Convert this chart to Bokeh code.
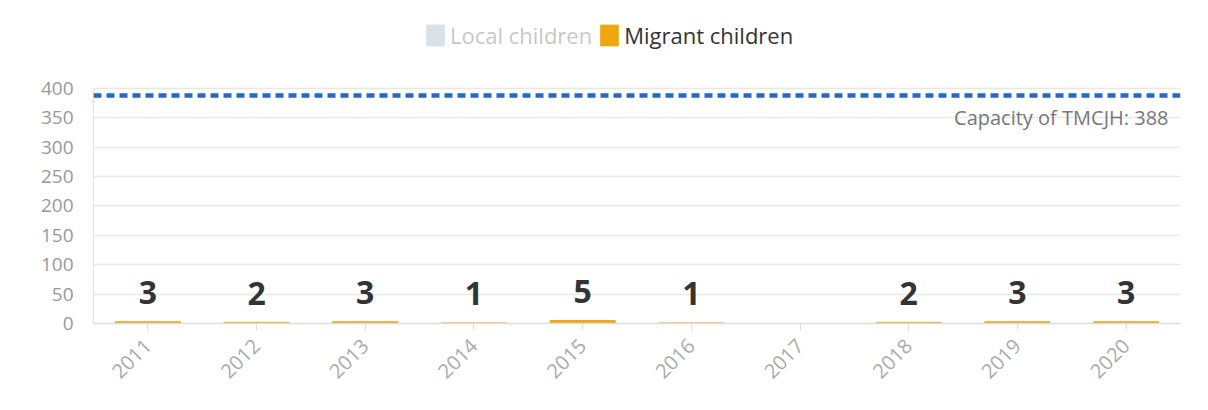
from bokeh.plotting import figure
from bokeh.models import (ColumnDataSource, FactorRange, Range1d, Span, Label, Legend, LegendItem)
from bokeh.core.properties import value
from bokeh.embed import file_html
from bokeh.resources import INLINE
import math

years = ["2011", "2012", "2013", "2014", "2015", "2016", "2017", "2018", "2019", "2020"]
migrant_children = [3, 2, 3, 1, 5, 1, 0, 2, 3, 3]
capacity = 388
capacity_label = "Capacity of TMCJH: 388"
y_ticks = [0, 50, 100, 150, 200, 250, 300, 350, 400]

FONT = "Open Sans"
ORANGE = "#f0a70f"
LOCAL = "#7398b2"

# frame extends above 400 so the legend can sit inside it
p = figure(x_range=FactorRange(*years, range_padding=0), y_range=Range1d(0, 522.5),
           width=1192, height=394, output_backend="svg", toolbar_location=None,
           min_border_left=93, min_border_right=12, min_border_top=16, min_border_bottom=71)
p.outline_line_color = None
p.background_fill_color = "white"
p.border_fill_color = "white"

src = ColumnDataSource(data=dict(x=years, top=migrant_children))
# "Local children" series is switched off (hidden) in the reference: placeholder renderer only
local_src = ColumnDataSource(data=dict(x=years[:1], top=[0]))
r_local = p.vbar(x="x", top="top", width=0.6, source=local_src, color=LOCAL, visible=False)
r_mig = p.vbar(x="x", top="top", width=0.6, source=src, color=ORANGE)

lab_years = [y for y, v in zip(years, migrant_children) if v > 0]
lab_vals = [v for v in migrant_children if v > 0]
lab_src = ColumnDataSource(data=dict(x=lab_years, y=lab_vals, t=[str(v) for v in lab_vals]))
p.text(x="x", y="y", text="t", source=lab_src, text_align="center", text_baseline="alphabetic",
       y_offset=-29, text_font=value(FONT), text_font_style="bold", text_font_size="32px",
       text_color="#333333")

p.add_layout(Span(location=capacity, dimension="width", line_color="#2468cc", line_width=4.5,
                  line_dash="8 5"))
p.add_layout(Label(x=1075, x_units="screen", y=capacity, y_offset=-22, text=capacity_label,
                   text_align="right", text_baseline="middle", text_font=FONT,
                   text_font_size="20px", text_color="#777777"))

legend = Legend(items=[LegendItem(label="Local children", renderers=[r_local]),
                       LegendItem(label="Migrant children", renderers=[r_mig])],
                orientation="horizontal", location=(331, 273), click_policy="hide",
                glyph_width=22, glyph_height=26, label_standoff=4, spacing=6, padding=0, margin=0,
                label_text_font=FONT, label_text_font_size="22px", label_text_color="#333333",
                border_line_color=None, background_fill_alpha=0,
                inactive_fill_color="white", inactive_fill_alpha=0.72)
p.add_layout(legend)

# axes
p.yaxis.ticker = y_ticks
p.yaxis.bounds = (0, 400)
p.yaxis.major_tick_line_color = None
p.yaxis.minor_tick_line_color = None
p.yaxis.axis_line_color = "#e2e2e2"
p.yaxis.major_label_text_font = FONT
p.yaxis.major_label_text_font_size = "19px"
p.yaxis.major_label_text_color = "#999999"
p.yaxis.major_label_standoff = 14

p.xaxis.axis_line_color = "#dddddd"
p.xaxis.axis_line_width = 1.5
p.xaxis.major_tick_line_color = "#dddddd"
p.xaxis.major_tick_out = 7
p.xaxis.major_tick_in = 0
p.xaxis.major_label_orientation = math.pi / 4
p.xaxis.major_label_text_font = FONT
p.xaxis.major_label_text_font_size = "20px"
p.xaxis.major_label_text_color = "#aaaaaa"
p.xaxis.major_label_standoff = 12

p.xgrid.grid_line_color = None
p.ygrid.grid_line_color = "#e8e8e8"
p.ygrid.grid_line_width = 1.5

open("out.html", "w").write(file_html(p, INLINE))
